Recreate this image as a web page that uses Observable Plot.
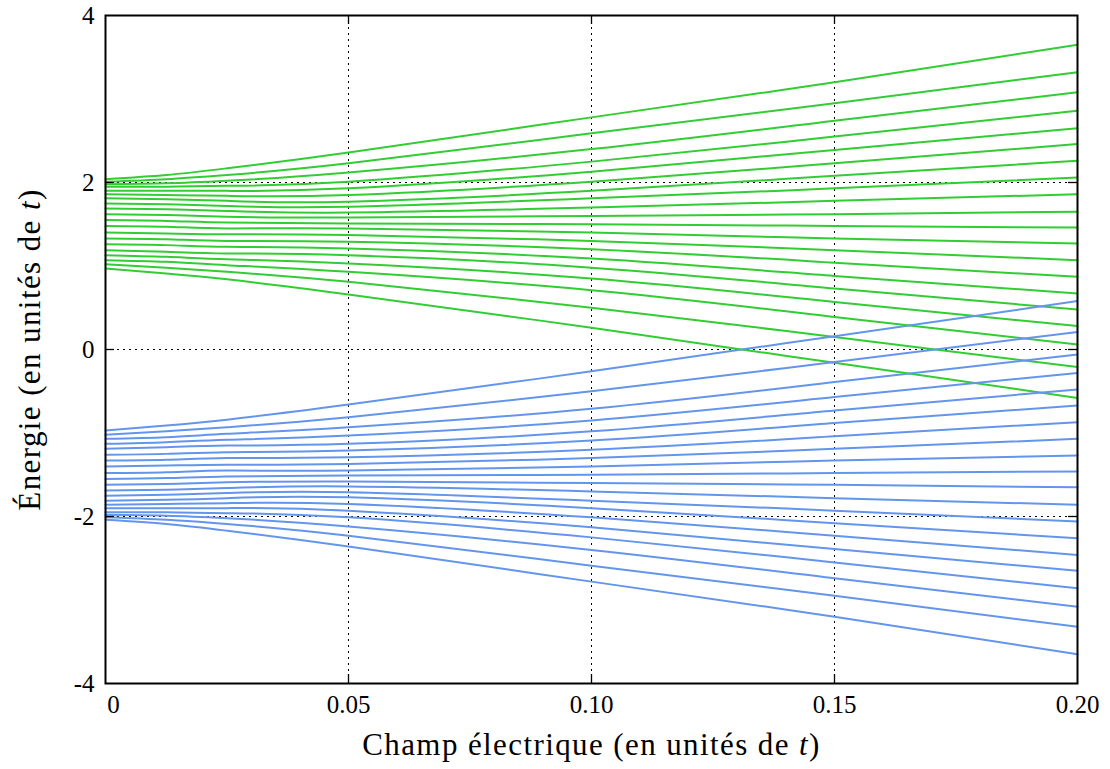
<!DOCTYPE html>
<html><head><meta charset="utf-8">
<script src="https://cdn.jsdelivr.net/npm/d3@7"></script>
<script src="https://cdn.jsdelivr.net/npm/@observablehq/plot@0.6"></script>
<style>
body{margin:0;background:#fff}
svg{display:block}
svg text{font-family:"Liberation Serif","DejaVu Serif",serif !important}
svg text.title{letter-spacing:1.4px}
</style>
</head><body><div id="chart"></div>
<script>
// Electric field sample points (units of t)
const fieldValues = [0, 0.0125, 0.025, 0.05, 0.10, 0.15, 0.20];

// Upper band levels (green), top to bottom, energy at each field value
const upperBand = [
  [2.04, 2.09, 2.17, 2.36, 2.78, 3.20, 3.65],
  [2.01, 2.04, 2.09, 2.23, 2.59, 2.95, 3.32],
  [1.98, 1.99, 2.02, 2.12, 2.40, 2.74, 3.08],
  [1.95, 1.95, 1.96, 2.01, 2.25, 2.55, 2.86],
  [1.90, 1.90, 1.90, 1.93, 2.13, 2.39, 2.65],
  [1.86, 1.85, 1.84, 1.85, 2.01, 2.23, 2.46],
  [1.81, 1.80, 1.78, 1.77, 1.90, 2.08, 2.26],
  [1.75, 1.74, 1.72, 1.71, 1.81, 1.93, 2.06],
  [1.69, 1.68, 1.66, 1.64, 1.70, 1.78, 1.86],
  [1.62, 1.61, 1.59, 1.58, 1.60, 1.62, 1.65],
  [1.55, 1.54, 1.52, 1.51, 1.50, 1.48, 1.46],
  [1.48, 1.47, 1.45, 1.45, 1.40, 1.33, 1.27],
  [1.40, 1.39, 1.38, 1.37, 1.30, 1.19, 1.07],
  [1.33, 1.32, 1.30, 1.29, 1.20, 1.04, 0.87],
  [1.26, 1.25, 1.23, 1.21, 1.09, 0.88, 0.67],
  [1.19, 1.17, 1.15, 1.13, 0.98, 0.73, 0.48],
  [1.13, 1.11, 1.08, 1.03, 0.85, 0.57, 0.28],
  [1.07, 1.05, 1.01, 0.93, 0.71, 0.39, 0.06],
  [1.02, 0.98, 0.93, 0.81, 0.50, 0.15, -0.21],
  [0.97, 0.91, 0.84, 0.66, 0.26, -0.16, -0.58]
];

// Lower band levels (blue), top to bottom
const lowerBand = [
  [-0.97, -0.91, -0.84, -0.66, -0.26, 0.16, 0.58],
  [-1.02, -0.98, -0.93, -0.81, -0.50, -0.15, 0.21],
  [-1.07, -1.05, -1.01, -0.93, -0.71, -0.39, -0.06],
  [-1.13, -1.11, -1.08, -1.03, -0.85, -0.57, -0.28],
  [-1.19, -1.17, -1.15, -1.13, -0.98, -0.73, -0.48],
  [-1.26, -1.25, -1.23, -1.21, -1.09, -0.88, -0.67],
  [-1.33, -1.32, -1.30, -1.29, -1.20, -1.04, -0.87],
  [-1.40, -1.39, -1.38, -1.37, -1.30, -1.19, -1.07],
  [-1.48, -1.47, -1.45, -1.45, -1.40, -1.33, -1.27],
  [-1.55, -1.54, -1.52, -1.51, -1.50, -1.48, -1.46],
  [-1.62, -1.61, -1.59, -1.58, -1.60, -1.62, -1.65],
  [-1.69, -1.68, -1.66, -1.64, -1.70, -1.78, -1.86],
  [-1.75, -1.74, -1.72, -1.71, -1.81, -1.93, -2.06],
  [-1.81, -1.80, -1.78, -1.77, -1.90, -2.08, -2.26],
  [-1.86, -1.85, -1.84, -1.85, -2.01, -2.23, -2.46],
  [-1.90, -1.90, -1.90, -1.93, -2.13, -2.39, -2.65],
  [-1.95, -1.95, -1.96, -2.01, -2.25, -2.55, -2.86],
  [-1.98, -1.99, -2.02, -2.12, -2.40, -2.74, -3.08],
  [-2.01, -2.04, -2.09, -2.23, -2.59, -2.95, -3.32],
  [-2.04, -2.09, -2.17, -2.36, -2.78, -3.20, -3.65]
];

const xTickValues = [0, 0.05, 0.10, 0.15, 0.20];
const xTickLabels = ["0", "0.05", "0.10", "0.15", "0.20"];
const yTickValues = [4, 2, 0, -2, -4];
const yTickLabels = ["4", "2", "0", "-2", "-4"];
const xGrid = [0.05, 0.10, 0.15];
const yGrid = [-2, 0, 2];
const xTitle = "Champ électrique (en unités de t)";
const yTitle = "Énergie (en unités de t)";
const bandColors = {upper: "#32cd32", lower: "#6495ed"};

function toRows(band, name) {
  const rows = [];
  band.forEach((levels, i) => {
    levels.forEach((e, j) => rows.push({band: name, id: name + i, field: fieldValues[j], energy: e}));
  });
  return rows;
}
const rows = [...toRows(upperBand, "upper"), ...toRows(lowerBand, "lower")];

const font = "Liberation Serif";
const W = 1110, H = 769, mL = 105, mR = 33, mT = 15, mB = 86;
const tick = 9;
const frameW = W - mL - mR, frameH = H - mT - mB;

const chart = Plot.plot({
  width: W,
  height: H,
  marginLeft: mL,
  marginRight: mR,
  marginTop: mT,
  marginBottom: mB,
  style: {fontFamily: font, background: "white", color: "black"},
  x: {domain: [0, 0.2]},
  y: {domain: [-4, 4]},
  marks: [
    Plot.ruleX(xGrid, {stroke: "black", strokeWidth: 1, strokeDasharray: "2,4"}),
    Plot.ruleY(yGrid, {stroke: "black", strokeWidth: 1, strokeDasharray: "2,4"}),
    Plot.line(rows, {x: "field", y: "energy", z: "id",
      stroke: d => bandColors[d.band], strokeWidth: 2, curve: "natural"}),
    // inward ticks on all four sides
    Plot.ruleX(xGrid, {stroke: "black", strokeWidth: 1.3, insetTop: frameH - tick}),
    Plot.ruleX(xGrid, {stroke: "black", strokeWidth: 1.3, insetBottom: frameH - tick}),
    Plot.ruleY(yGrid, {stroke: "black", strokeWidth: 1.3, insetRight: frameW - tick}),
    Plot.ruleY(yGrid, {stroke: "black", strokeWidth: 1.3, insetLeft: frameW - tick}),
    Plot.axisX(xTickValues.slice(1), {anchor: "bottom", tickSize: 0, tickPadding: 12, fontSize: 25,
      tickFormat: d => xTickLabels[xTickValues.indexOf(d)], label: null}),
    Plot.axisX(xTickValues.slice(0, 1), {anchor: "bottom", tickSize: 0, tickPadding: 12, fontSize: 25, dx: 8,
      tickFormat: d => xTickLabels[xTickValues.indexOf(d)], label: null}),
    Plot.axisY(yTickValues, {anchor: "left", tickSize: 0, tickPadding: 11, fontSize: 25,
      tickFormat: d => yTickLabels[yTickValues.indexOf(d)], label: null}),
    Plot.frame({stroke: "black", strokeWidth: 2}),
    Plot.text([xTitle], {text: d => d, frameAnchor: "bottom", dy: 62, lineAnchor: "middle", textAnchor: "middle",
      fontSize: 31, fill: "black", className: "title"}),
    Plot.text([yTitle], {text: d => d, frameAnchor: "left", dx: -75, rotate: -90, lineAnchor: "middle", textAnchor: "middle",
      fontSize: 31, fill: "black", className: "title"})
  ]
});

document.getElementById("chart").appendChild(chart);

// italic "t" in axis titles, letter spacing like the reference
const ns = "http://www.w3.org/2000/svg";
chart.querySelectorAll("text").forEach(t => {
  const s = t.textContent;
  if (s.endsWith("de t)") && t.children.length === 0) {
    t.setAttribute("letter-spacing", "1.4");
    t.textContent = s.slice(0, -2);
    const ts = document.createElementNS(ns, "tspan");
    ts.setAttribute("font-style", "italic");
    ts.textContent = "t";
    t.appendChild(ts);
    t.appendChild(document.createTextNode(")"));
  }
});
</script>
</body></html>
